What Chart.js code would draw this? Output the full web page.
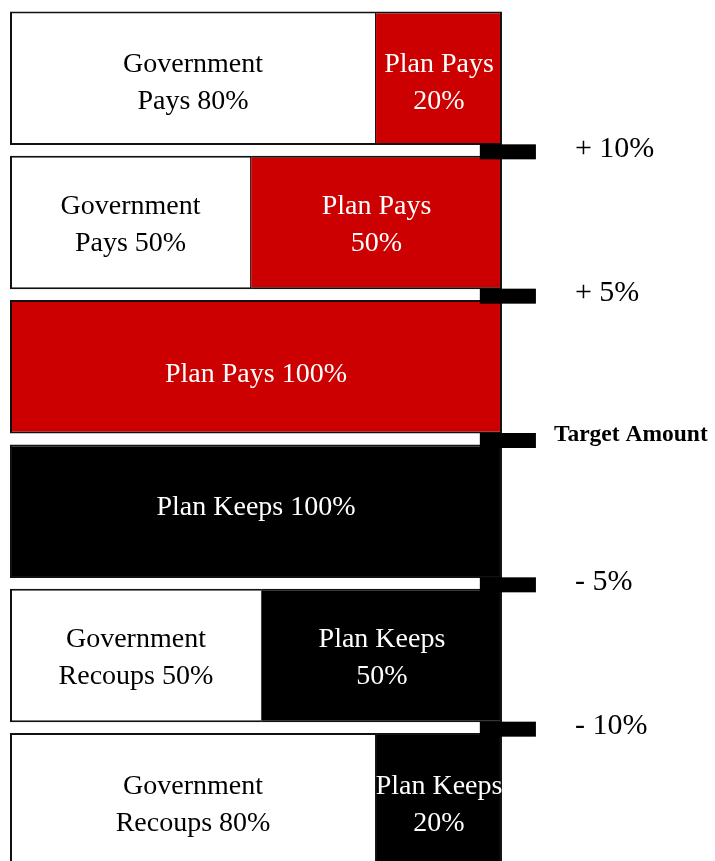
<!DOCTYPE html>
<html>
<head>
<meta charset="utf-8">
<script src="https://cdn.jsdelivr.net/npm/chart.js@4/dist/chart.umd.min.js"></script>
<style>
  html, body { margin: 0; padding: 0; background: #fff; overflow: hidden; }
  #wrap { width: 715px; height: 872px; position: relative; }
</style>
</head>
<body>
<div id="wrap"><canvas id="c" width="715" height="872"></canvas></div>
<script>
// ---- data ----
const categories = ['Tier +10+', 'Tier +5 to +10', 'Tier 0 to +5', 'Tier -5 to 0', 'Tier -10 to -5', 'Tier -10-'];
const governmentShare = [74.4, 49.0, 0, 0, 51.2, 74.4];
const planShare = [25.6, 51.0, 100, 100, 48.8, 25.6];
const governmentText = [['Government', 'Pays 80%'], ['Government', 'Pays 50%'], [], [], ['Government', 'Recoups 50%'], ['Government', 'Recoups 80%']];
const planText = [['Plan Pays', '20%'], ['Plan Pays', '50%'], ['Plan Pays 100%'], ['Plan Keeps 100%'], ['Plan Keeps', '50%'], ['Plan Keeps', '20%']];
const planKind = ['pays', 'pays', 'pays', 'keeps', 'keeps', 'keeps'];
const thresholdLabels = ['+ 10%', '+ 5%', 'Target Amount', '- 5%', '- 10%'];
const thresholdFrom = [95.5, 95.5, 95.5, 95.5, 95.5];
const thresholdTo = [106.9, 106.9, 106.9, 106.9, 106.9];

// ---- styles ----
const kindColor = { pays: '#CC0000', keeps: '#000000' };
const edge = '#111111';
const serif = '"Liberation Serif", "Times New Roman", serif';

const barTextPlugin = {
  id: 'barText',
  afterDatasetsDraw(chart, args, opts) {
    const ctx = chart.ctx;
    ctx.save();
    ctx.textAlign = 'center';
    ctx.textBaseline = 'middle';
    ctx.font = opts.size + 'px ' + serif;
    const sets = [
      { idx: 0, text: governmentText, color: '#000000' },
      { idx: 1, text: planText, color: '#FFFFFF' }
    ];
    sets.forEach(s => {
      const meta = chart.getDatasetMeta(s.idx);
      meta.data.forEach((el, i) => {
        const lines = s.text[i];
        if (!lines || !lines.length) return;
        const cx = (el.x + el.base) / 2;
        const cy = el.y + opts.offsets[i];
        ctx.fillStyle = s.color;
        lines.forEach((ln, k) => {
          ctx.fillText(ln, cx, cy + (k - (lines.length - 1) / 2) * opts.lineHeight);
        });
      });
    });
    ctx.restore();
  }
};

const thresholdPlugin = {
  id: 'thresholds',
  afterDatasetsDraw(chart, args, opts) {
    const ctx = chart.ctx;
    const xs = chart.scales.x, ys = chart.scales.y;
    ctx.save();
    thresholdLabels.forEach((lab, i) => {
      const yc = (ys.getPixelForValue(i) + ys.getPixelForValue(i + 1)) / 2;
      const x0 = xs.getPixelForValue(thresholdFrom[i]);
      const x1 = xs.getPixelForValue(thresholdTo[i]);
      ctx.fillStyle = '#000000';
      ctx.fillRect(x0, yc + opts.markerDy - opts.markerHeight / 2, x1 - x0, opts.markerHeight);
      const bold = lab === 'Target Amount';
      ctx.font = (bold ? 'bold ' + opts.boldSize : opts.size) + 'px ' + serif;
      ctx.textAlign = 'left';
      ctx.textBaseline = 'middle';
      ctx.fillText(lab, x1 + (bold ? opts.boldGap : opts.gap), yc + (bold ? opts.boldDy : opts.dy));
    });
    ctx.restore();
  }
};

new Chart(document.getElementById('c'), {
  type: 'bar',
  data: {
    labels: categories,
    datasets: [
      {
        label: 'Government',
        data: governmentShare,
        backgroundColor: '#FFFFFF',
        borderColor: edge,
        borderWidth: { left: 2, top: 2, bottom: 2, right: 1 },
        borderSkipped: false
      },
      {
        label: 'Plan',
        data: planShare,
        backgroundColor: ctx => kindColor[planKind[ctx.dataIndex]],
        borderColor: edge,
        borderWidth: ctx => ({ left: governmentShare[ctx.dataIndex] > 0 ? 0 : 2, top: 2, bottom: 2, right: 2 }),
        borderSkipped: false
      }
    ]
  },
  options: {
    indexAxis: 'y',
    responsive: false,
    animation: false,
    devicePixelRatio: 1,
    layout: { padding: { left: 10, right: 0, top: 6, bottom: 0 } },
    datasets: { bar: { categoryPercentage: 1, barPercentage: 0.925 } },
    scales: {
      x: { stacked: true, min: 0, max: 143.3, display: false },
      y: { stacked: true, display: false }
    },
    plugins: {
      legend: { display: false },
      tooltip: { enabled: false },
      barText: { size: 28, lineHeight: 37, offsets: [4.5, 3, 8, -4, 2.5, 5] },
      thresholds: { markerHeight: 15, markerDy: 1.5, size: 30, boldSize: 23.5, gap: 39, boldGap: 18, dy: -1.5, boldDy: -4 }
    }
  },
  plugins: [barTextPlugin, thresholdPlugin]
});
</script>
</body>
</html>
